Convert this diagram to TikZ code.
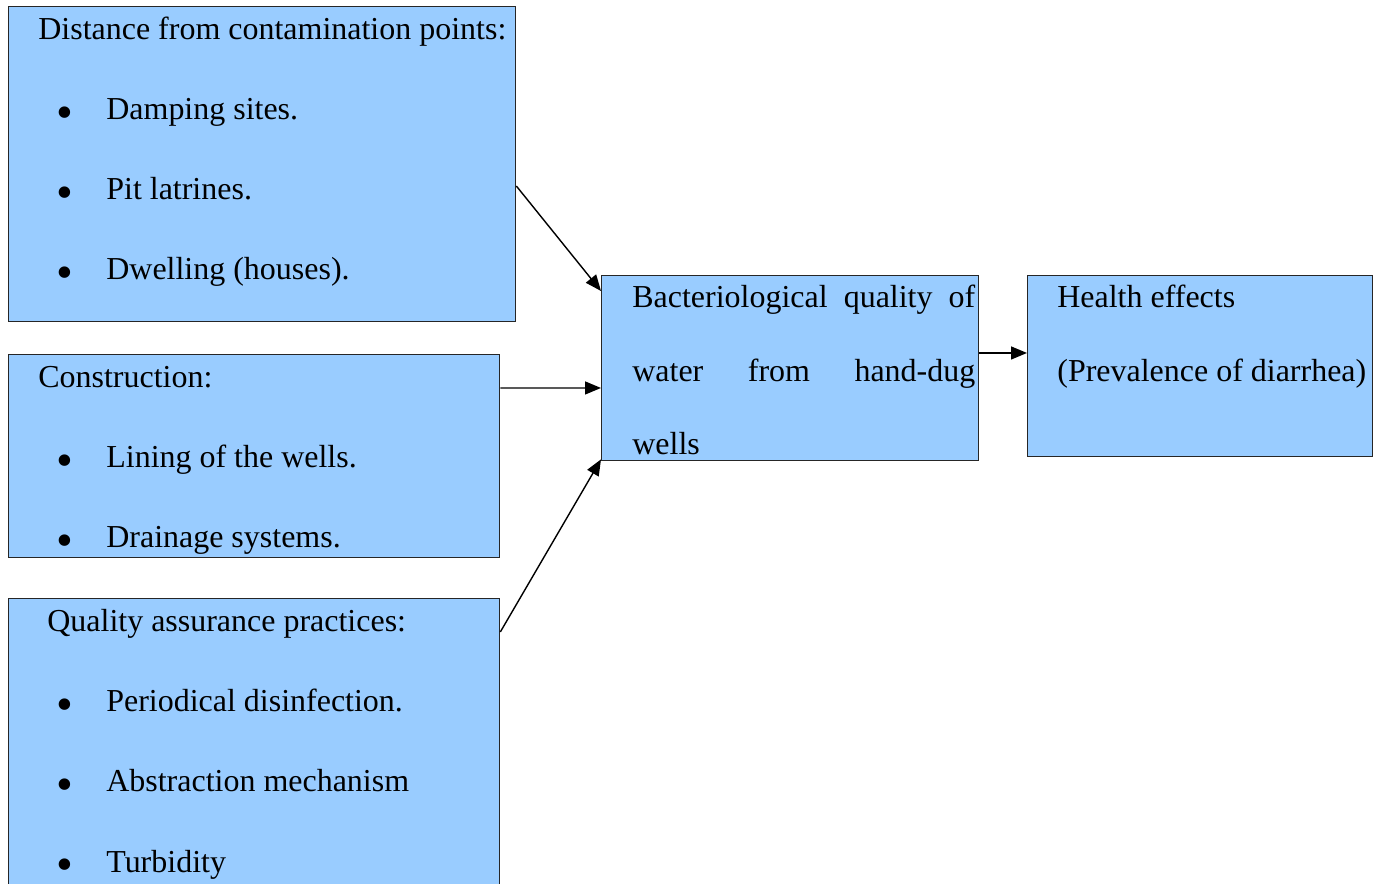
\documentclass[tikz,border=0pt]{standalone}
\usepackage{fontspec}
\setmainfont{Liberation Serif}
\usepackage{tikz}
\usetikzlibrary{arrows.meta}

\definecolor{boxblue}{HTML}{99CCFF}
\newcommand{\bul}[1]{\makebox[0.94cm][l]{\hspace*{-0.06cm}\raisebox{-0.27em}{\scalebox{1.5}{\textbullet}}}#1}
\newcommand{\jline}[1]{\makebox[6.86cm][s]{#1}}

\begin{document}
\begin{tikzpicture}[x=0.02cm,y=-0.02cm,
    font=\fontsize{18.2pt}{20pt}\selectfont,
    box/.style={draw=black!85,line width=0.8pt,fill=boxblue,anchor=north west,inner sep=0pt},
    txt/.style={anchor=base west,inner sep=0pt}]
  \useasboundingbox (0,0) rectangle (1380,884);
  % boxes
  \node[box,minimum width=10.14cm,minimum height=6.3cm] (dist) at (8,6) {};
  \node[box,minimum width=9.82cm,minimum height=4.06cm] (cons) at (8,354) {};
  \node[box,minimum width=9.82cm,minimum height=6.2cm] (qual) at (8,598) {};
  \node[box,minimum width=7.54cm,minimum height=3.7cm] (bact) at (601,275) {};
  \node[box,minimum width=6.9cm,minimum height=3.62cm] (health) at (1027,275) {};
  % texts
  \node[txt] (dist-h) at (38,40) {Distance from contamination points:};
  \node[txt] (dist-1) at (59,120) {\bul{Damping sites.}};
  \node[txt] (dist-2) at (59,200) {\bul{Pit latrines.}};
  \node[txt] (dist-3) at (59,280) {\bul{Dwelling (houses).}};
  \node[txt] (cons-h) at (38,388) {Construction:};
  \node[txt] (cons-1) at (59,468) {\bul{Lining of the wells.}};
  \node[txt] (cons-2) at (59,548) {\bul{Drainage systems.}};
  \node[txt] (qual-h) at (47,632) {Quality assurance practices:};
  \node[txt] (qual-1) at (59,712) {\bul{Periodical disinfection.}};
  \node[txt] (qual-2) at (59,792) {\bul{Abstraction mechanism}};
  \node[txt] (qual-3) at (59,872) {\bul{Turbidity}};
  \node[txt] (bact-1) at (632,308) {\jline{Bacteriological quality of}};
  \node[txt] (bact-2) at (632,382) {\jline{water from hand-dug}};
  \node[txt] (bact-3) at (632,455) {wells};
  \node[txt] (health-1) at (1057,308) {Health effects};
  \node[txt] (health-2) at (1057,382) {(Prevalence of diarrhea)};
  % arrows
  \path[-{Triangle[length=3.2mm,width=2.6mm]},line width=0.8pt]
    ([yshift=-3.6cm]dist.north east) edge ([yshift=-0.32cm]bact.north west)
    ([yshift=-0.68cm]cons.north east) edge ([yshift=-2.26cm]bact.north west)
    ([yshift=-0.68cm]qual.north east) edge ([yshift=0.04cm]bact.south west)
    ([yshift=-1.56cm]bact.north east) edge ([yshift=-1.56cm]health.north west);
\end{tikzpicture}
\end{document}
